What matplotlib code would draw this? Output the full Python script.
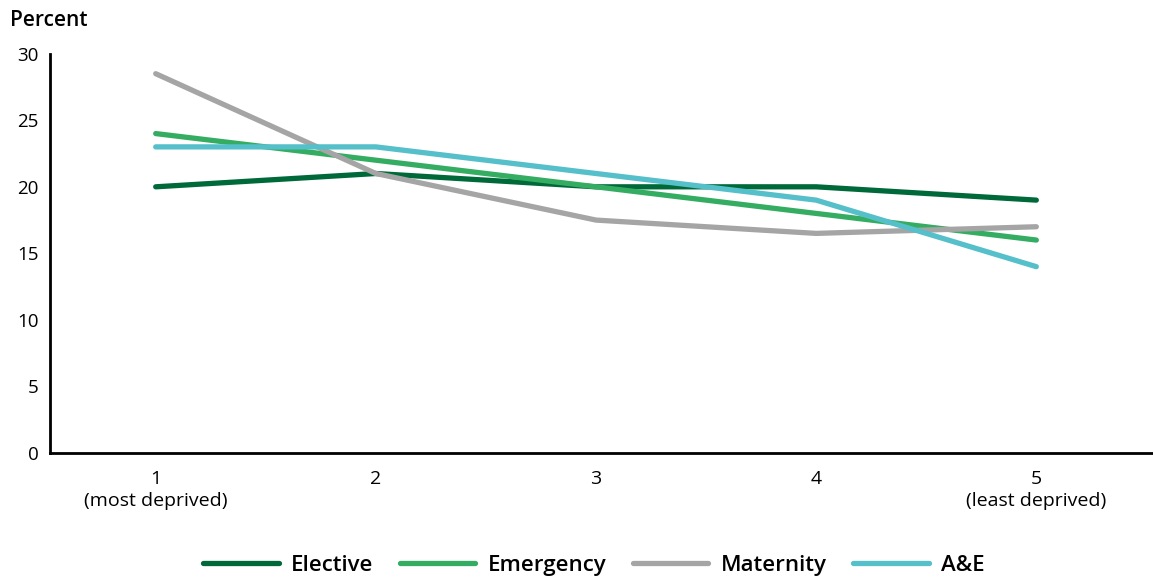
import matplotlib
matplotlib.use("Agg")
import matplotlib.pyplot as plt

plt.rcParams['font.family'] = ['Open Sans', 'DejaVu Sans']

quintiles = [1, 2, 3, 4, 5]
tick_labels = ['1\n(most deprived)', '2', '3', '4', '5\n(least deprived)']
elective = [20, 21, 20, 20, 19]
emergency = [24, 22, 20, 18, 16]
maternity = [28.5, 21, 17.5, 16.5, 17]
ae = [23, 23, 21, 19, 14]

series = [('Elective', elective, '#00693a'),
          ('Emergency', emergency, '#34ad62'),
          ('Maternity', maternity, '#a5a5a5'),
          ('A&E', ae, '#55bfca')]

fig = plt.figure(figsize=(11.53, 5.77), dpi=100)
ax = fig.add_axes([0.0434, 0.2149, 0.9566, 0.692])

for name, vals, col in series:
    ax.plot(quintiles, vals, color=col, lw=3.8, label=name, solid_capstyle='round')

ax.set_xlim(0.52, 5.53)
ax.set_ylim(0, 30)
ax.set_yticks(range(0, 31, 5))
ax.set_xticks(quintiles)
ax.set_xticklabels(tick_labels, fontsize=14, linespacing=1.3)
ax.tick_params(axis='y', labelsize=13.5, length=0, pad=8)
ax.tick_params(axis='x', length=0, pad=12)
for s in ['top', 'right']:
    ax.spines[s].set_visible(False)
for s in ['left', 'bottom']:
    ax.spines[s].set_linewidth(2)
    ax.spines[s].set_color('black')

fig.text(0.009, 0.965, 'Percent', fontsize=15, fontweight='semibold', va='center', ha='left')

leg = fig.legend(loc='center', bbox_to_anchor=(0.515, 0.02), ncol=4, frameon=False,
                 fontsize=16, handlelength=3.4, columnspacing=1.2, handletextpad=0.55)
for t in leg.get_texts():
    t.set_fontweight('semibold')

fig.savefig('out.png', dpi=100)
